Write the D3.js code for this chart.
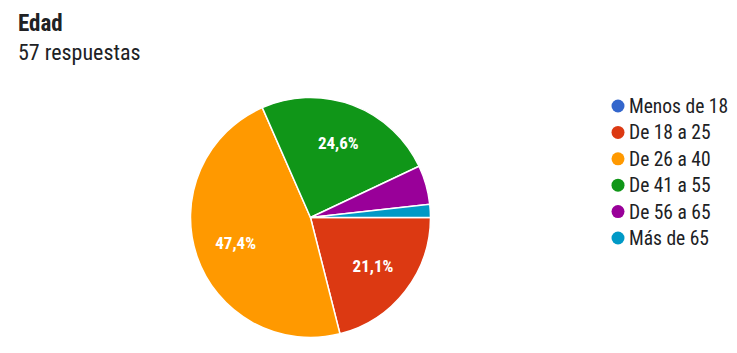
<!DOCTYPE html>
<html>
<head>
<meta charset="utf-8">
<script src="https://cdn.jsdelivr.net/npm/d3@7"></script>
<style>
  body { margin: 0; background: #fff; }
  text { font-family: "Roboto Condensed", "DejaVu Sans Condensed", "Roboto", sans-serif; }
</style>
</head>
<body>
<div id="chart"></div>
<script>
// data
const categories = ["Menos de 18", "De 18 a 25", "De 26 a 40", "De 41 a 55", "De 56 a 65", "Más de 65"];
const counts = [0, 12, 27, 14, 3, 1];
const colors = ["#3366cc", "#dc3912", "#ff9900", "#109618", "#990099", "#0099c6"];
const title = "Edad";
const subtitle = "57 respuestas";

const width = 737, height = 353;
const cx = 310.5, cy = 217.5, radius = 120;

const svg = d3.select("#chart")
    .append("svg")
    .attr("width", width)
    .attr("height", height);

// title
svg.append("text")
    .attr("x", 18).attr("y", 31)
    .style("font-size", "23px").style("font-weight", "bold")
    .attr("fill", "#202124")
    .text(title);
svg.append("text")
    .attr("x", 18).attr("y", 60)
    .style("font-size", "22px")
    .attr("fill", "#202124")
    .text(subtitle);

const total = d3.sum(counts);
const rows = categories.map((c, i) => ({name: c, value: counts[i], color: colors[i]}));

const pie = d3.pie()
    .value(d => d.value)
    .sort(null)
    .startAngle(Math.PI / 2)
    .endAngle(Math.PI / 2 + 2 * Math.PI);

const arc = d3.arc().innerRadius(0).outerRadius(radius);
const labelArc = d3.arc().innerRadius(radius * 0.66).outerRadius(radius * 0.66);

const g = svg.append("g").attr("transform", `translate(${cx},${cy})`);

const arcs = pie(rows).filter(d => d.data.value > 0);

g.selectAll("path")
    .data(arcs)
    .join("path")
    .attr("d", arc)
    .attr("fill", d => d.data.color)
    .attr("stroke", "#fff")
    .attr("stroke-width", 1.5);

// percent labels, only on big slices
g.selectAll("text.pct")
    .data(arcs.filter(d => d.data.value / total > 0.1))
    .join("text")
    .attr("class", "pct")
    .attr("transform", d => `translate(${labelArc.centroid(d)})`)
    .attr("text-anchor", "middle")
    .attr("dy", "0.35em")
    .style("font-size", "17px")
    .style("font-weight", "bold")
    .attr("fill", "#fff")
    .text(d => (d.data.value / total * 100).toFixed(1).replace(".", ",") + "%");

// legend
const legend = svg.append("g").attr("transform", "translate(618,106)");
const item = legend.selectAll("g")
    .data(rows)
    .join("g")
    .attr("transform", (d, i) => `translate(0,${i * 26.4})`);
item.append("circle")
    .attr("r", 6.5)
    .attr("fill", d => d.color);
item.append("text")
    .attr("x", 11)
    .attr("dy", "0.36em")
    .style("font-size", "19.5px")
    .attr("fill", "#202124")
    .text(d => d.name);
</script>
</body>
</html>
